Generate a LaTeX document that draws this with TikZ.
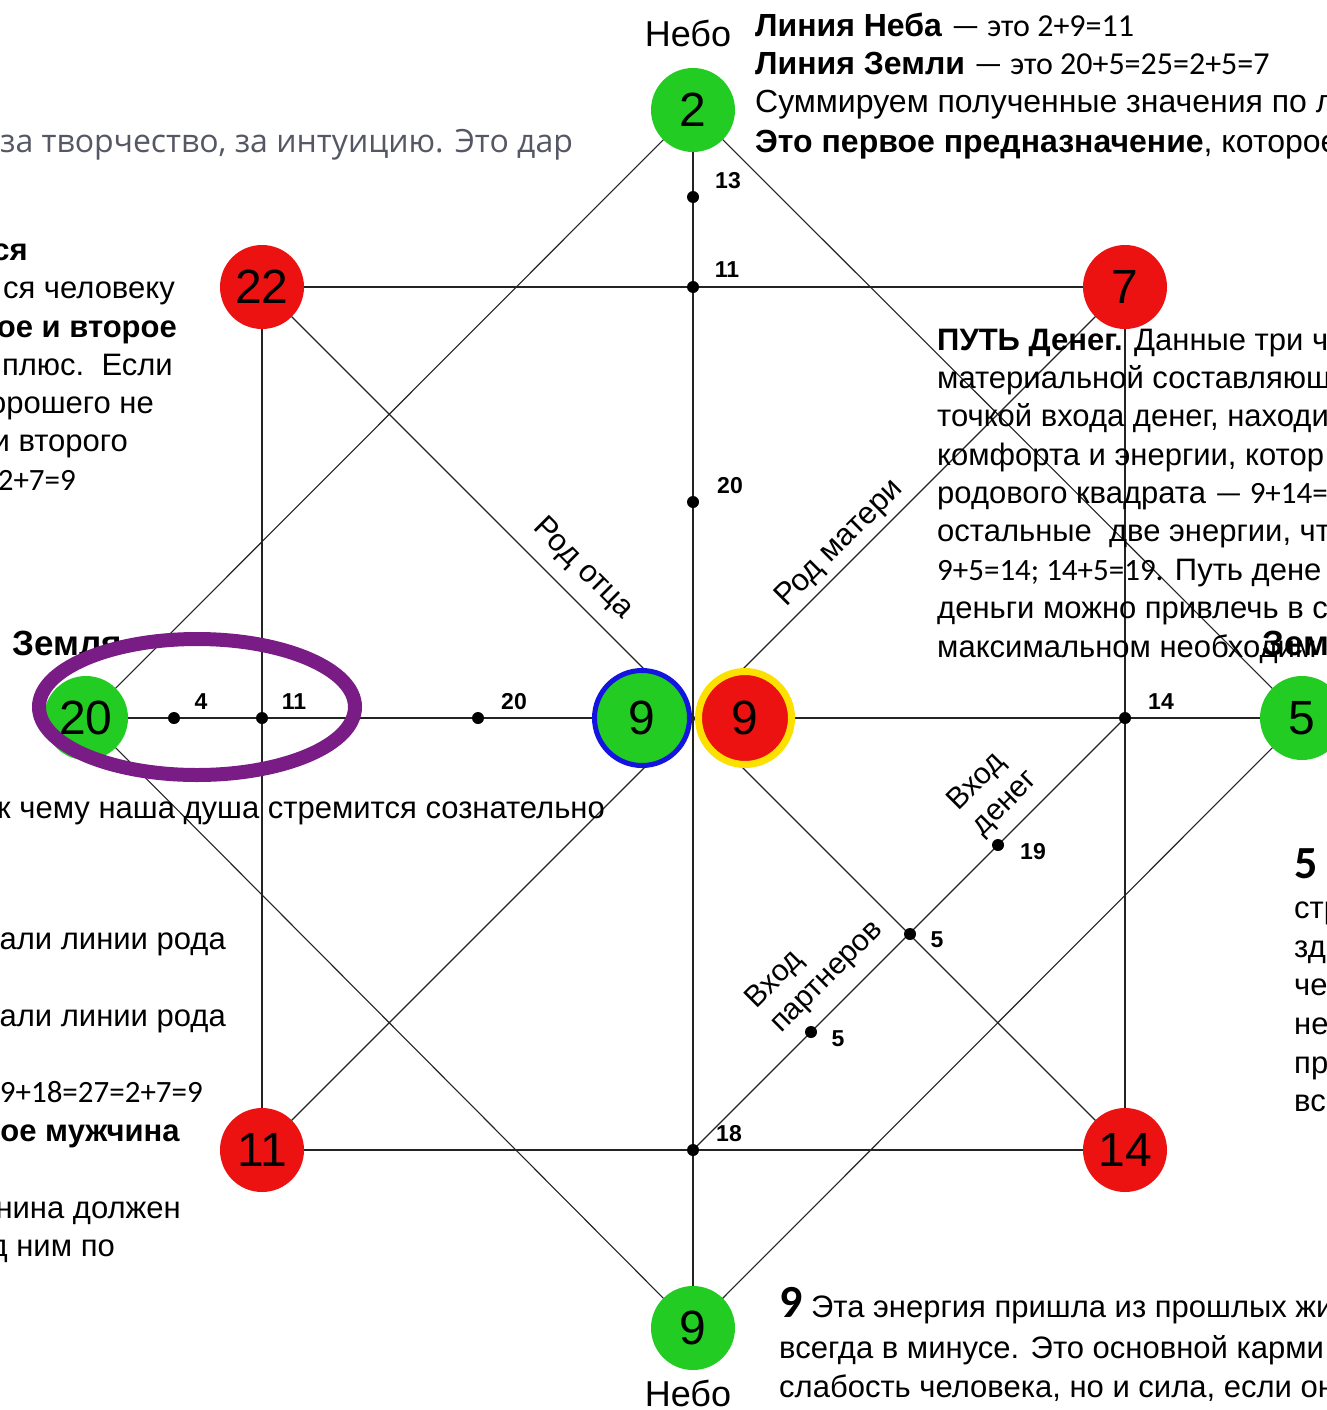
\documentclass[tikz,border=0pt]{standalone}
\usepackage{fontspec}
\setmainfont{Liberation Sans}
\newfontfamily\osans{Open Sans}
\newfontfamily\calib{Carlito}
\usetikzlibrary{backgrounds,shapes.geometric}
\definecolor{ngreen}{RGB}{34,204,34}
\definecolor{nred}{RGB}{236,18,18}
\definecolor{nblue}{RGB}{20,20,225}
\definecolor{nyellow}{RGB}{252,225,0}
\definecolor{ringpurple}{RGB}{122,28,134}
\definecolor{linegray}{RGB}{35,35,35}
\definecolor{graytext}{RGB}{85,88,100}
\tikzset{
  numnode/.style={circle, inner sep=0pt, minimum size=84pt, text=black, font=\fontsize{48}{48}\selectfont},
  gnode/.style={numnode, fill=ngreen},
  rnode/.style={numnode, fill=nred},
  dotnode/.style={circle, fill=black, inner sep=0pt, minimum size=12pt},
  dlabel/.style={inner sep=0pt, font=\bfseries\fontsize{23}{23}\selectfont},
  axisline/.style={linegray, line width=1.8pt},
  thinline/.style={linegray, line width=1.1pt},
  bodyw/.style={anchor=base west, inner sep=0pt, font=\fontsize{31}{36}\selectfont},
  bodye/.style={anchor=base east, inner sep=0pt, font=\fontsize{31}{36}\selectfont},
  toptext/.style={anchor=base west, inner sep=0pt, font=\fontsize{32}{36}\selectfont},
  skylabel/.style={inner sep=0pt, font=\fontsize{36}{36}\selectfont},
  earthlabel/.style={anchor=base west, inner sep=0pt, font=\bfseries\fontsize{35}{35}\selectfont},
  rodlabel/.style={inner sep=0pt, font=\fontsize{31}{35}\selectfont},
  bignum/.style={anchor=base west, inner sep=0pt, font=\calib\bfseries\fontsize{46}{46}\selectfont},
}
\begin{document}
\begin{tikzpicture}[x=1pt,y=-1pt]
\useasboundingbox (0,0) rectangle (1327,1410);
\clip (0,0) rectangle (1327,1410);

% main circles
\node[gnode] (n2) at (693,110) {2};
\node[rnode] (n22) at (262,287) {22};
\node[rnode] (n7) at (1125,287) {7};
\node[gnode] (n20) at (86,718) {};
\node[circle, inner sep=0pt, fill=ngreen, draw=nblue, line width=5pt, minimum size=95pt, font=\fontsize{48}{48}\selectfont] (n9f) at (642,718) {9};
\node[circle, inner sep=0pt, fill=nred, draw=nyellow, line width=7pt, minimum size=93pt, font=\fontsize{48}{48}\selectfont] (n9m) at (745,718) {9};
\node[gnode] (n5) at (1302,718) {5};
\node[rnode] (n11) at (262,1150) {11};
\node[rnode] (n14) at (1125,1150) {14};
\node[gnode] (n9b) at (693,1328) {9};

% dots
\node[dotnode] (d13) at (693,197) {};
\node[dotnode] (d11t) at (693,287) {};
\node[dotnode] (d20t) at (693,502) {};
\node[dotnode] (d4) at (174,718) {};
\node[dotnode] (d11l) at (262,718) {};
\node[dotnode] (d20l) at (478,718) {};
\node[dotnode] (d14) at (1125,718) {};
\node[dotnode] (d19) at (998,845) {};
\node[dotnode] (d5a) at (910,934) {};
\node[dotnode] (d5b) at (811,1032) {};
\node[dotnode] (d18) at (693,1150) {};

\begin{pgfonlayer}{background}
\fill[white] (0,0) rectangle (1327,1410);
\draw[axisline] (n2.center) -- (n9b.center);
\draw[axisline] (n20.center) -- (n5.center);
\draw[axisline] (n22.center) -- (n7.center) -- (n14.center) -- (n11.center) -- cycle;
\draw[thinline] (n2.center) -- (n5.center) -- (n9b.center) -- (n20.center) -- cycle;
\draw[thinline] (n22.center) -- (n14.center);
\draw[thinline] (n11.center) -- (n7.center);
\draw[thinline] (d18.center) -- (d14.center);
\end{pgfonlayer}

% dot labels
\node[dlabel] (l13) at (728,181) {13};
\node[dlabel] (l11t) at (727,270) {11};
\node[dlabel] (l20t) at (730,486) {20};
\node[dlabel] (l4) at (201,702) {4};
\node[dlabel] (l11l) at (294,702) {11};
\node[dlabel] (l20l) at (514,702) {20};
\node[dlabel] (l14) at (1161,702) {14};
\node[dlabel] (l19) at (1033,852) {19};
\node[dlabel] (l5a) at (937,940) {5};
\node[dlabel] (l5b) at (838,1039) {5};
\node[dlabel] (l18) at (729,1134) {18};

% sky / earth labels
\node[skylabel] (skyt) at (688,33) {Небо};
\node[skylabel] (skyb) at (688,1393) {Небо};
\node[earthlabel] (earthl) at (12,655) {Земля};
\node[earthlabel] (earthr) at (1262,655) {Земля};

% purple ring over node 20
\node[ellipse, draw=ringpurple, line width=14pt, minimum width=316pt, minimum height=136pt, inner sep=0pt] (oval) at (197,707) {};
\node[inner sep=0pt, font=\fontsize{48}{48}\selectfont] (t20) at (n20.center) {20};

% line labels
\node[rodlabel, rotate=-45] (rodf) at (583,569) {Род отца};
\node[rodlabel, rotate=45] (rodm) at (840,544) {Род матери};
\node[rodlabel, rotate=45, align=left, font=\fontsize{30}{35}\selectfont] (vden) at (993,791) {Вход\\денег};
\node[rodlabel, rotate=45, align=left, font=\fontsize{30}{35}\selectfont] (vpart) at (815,965) {Вход\\партнеров};

% top-right text
\node[toptext] (tr1) at (755,37) {\textbf{Линия Неба} {\calib — это 2+9=11}};
\node[toptext] (tr2) at (755,75) {\textbf{Линия Земли} {\calib — это 20+5=25=2+5=7}};
\node[toptext] (tr3) at (755,113) {Суммируем полученные значения по л};
\node[toptext] (tr4) at (755,152) {\textbf{Это первое предназначение}, которое};

% top-left gray text
\node[bodyw, text=graytext, font=\osans\fontsize{32}{36}\selectfont] (gray1) at (0,153) {за творчество, за интуицию. Это дар};

% left text block
\node[bodye] (lt1) at (28,260) {\textbf{ся}};
\node[bodye] (lt2) at (175,298) {ся человеку};
\node[bodye] (lt3) at (177,337) {\textbf{ое и второе}};
\node[bodye] (lt4) at (173,375) {плюс.\ \ Если};
\node[bodye] (lt5) at (154,413) {орошего не};
\node[bodye] (lt6) at (128,451) {и второго};
\node[bodye] (lt7) at (76,490) {\calib 2+7=9};
\node[bodye] (lt8) at (605,818) {к чему наша душа стремится сознательно};
\node[bodye] (lt9) at (226,949) {али линии рода};
\node[bodye] (lt10) at (226,1026) {али линии рода};
\node[bodye] (lt11) at (203,1102) {\calib 9+18=27=2+7=9};
\node[bodye] (lt12) at (180,1141) {\textbf{ое мужчина}};
\node[bodye] (lt13) at (181,1218) {нина должен};
\node[bodye] (lt14) at (115,1256) {д ним по};

% money path block
\node[bodyw] (mp1) at (937,350) {\textbf{ПУТЬ Денег.} Данные три ч};
\node[bodyw] (mp2) at (937,388) {материальной составляющ};
\node[bodyw] (mp3) at (937,426) {точкой входа денег, находи};
\node[bodyw] (mp4) at (937,465) {комфорта и энергии, котор};
\node[bodyw] (mp5) at (937,503) {родового квадрата {\calib — 9+14=}};
\node[bodyw] (mp6) at (937,541) {остальные\ \ две энергии, чт};
\node[bodyw] (mp7) at (937,580) {{\calib 9+5=14; 14+5=19.} Путь дене};
\node[bodyw] (mp8) at (937,618) {деньги можно привлечь в с};
\node[bodyw] (mp9) at (937,657) {максимальном необходим};

% right "5" block
\node[bignum] (r5) at (1294,878) {5};
\node[bodyw] (r1) at (1294,918) {стр};
\node[bodyw] (r2) at (1294,957) {зд};
\node[bodyw] (r3) at (1294,995) {че};
\node[bodyw] (r4) at (1294,1034) {не};
\node[bodyw] (r5b) at (1294,1073) {пр};
\node[bodyw] (r6) at (1294,1111) {вс};

% bottom "9" block
\node[bodyw] (b1) at (779,1317) {{\calib\bfseries\fontsize{46}{46}\selectfont 9} Эта энергия пришла из прошлых жи};
\node[bodyw] (b2) at (779,1358) {всегда в минусе. Это основной карми};
\node[bodyw] (b3) at (779,1397) {слабость человека, но и сила, если он};
\end{tikzpicture}
\end{document}
